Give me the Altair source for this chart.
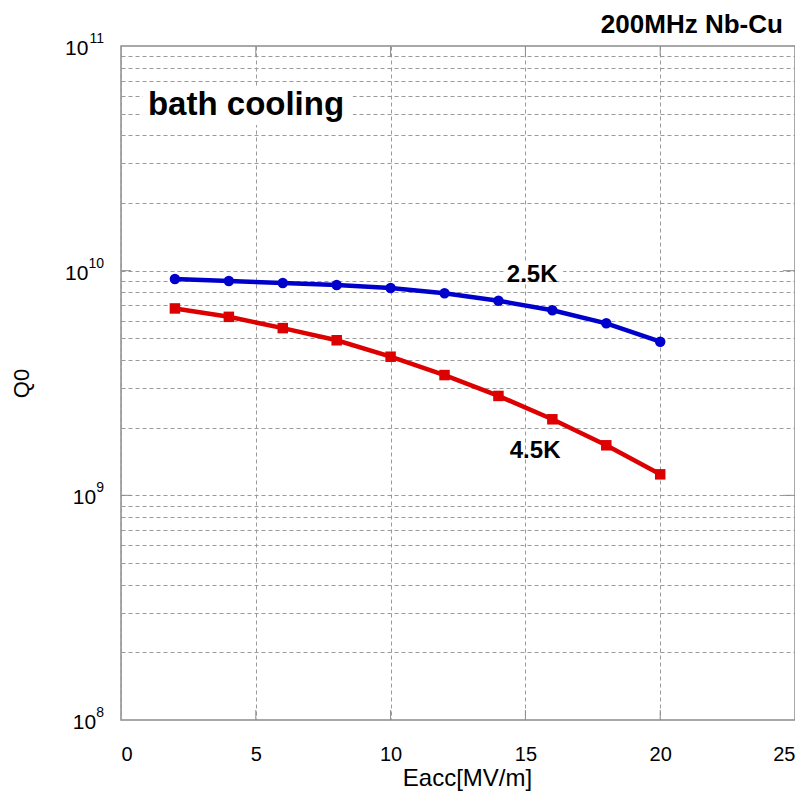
import altair as alt
import pandas as pd

# ---- data ----
eacc = [2, 4, 6, 8, 10, 12, 14, 16, 18, 20]
q0_25K = [9.18e9, 8.99e9, 8.81e9, 8.63e9, 8.37e9, 7.93e9, 7.35e9, 6.66e9, 5.83e9, 4.83e9]
q0_45K = [6.79e9, 6.23e9, 5.55e9, 4.90e9, 4.14e9, 3.43e9, 2.77e9, 2.18e9, 1.67e9, 1.24e9]
series_names = ["2.5K", "4.5K"]
series_colors = ["#0000cc", "#dd0000"]
series_shapes = ["circle", "square"]

x_ticks = [0, 5, 10, 15, 20, 25]
x_major_inner = [5, 10, 15, 20]
y_decades = [1e8, 1e9, 1e10, 1e11]
y_exponents = ["8", "9", "10", "11"]
y_major_inner = [1e9, 1e10]
y_grid = [m * 10 ** k for k in (8, 9, 10) for m in range(1, 10)][1:]

# annotations (data coordinates)
ann_text = ["bath cooling", "2.5K", "4.5K", "200MHz Nb-Cu"]
ann_x = [1.0, 14.31, 14.42, 24.55]
ann_y = [4.93e10, 8.93e9, 1.46e9, 1.146e11]
ann_size = [33, 24, 24, 26]
ann_align = ["left", "left", "left", "right"]

box_x = [0.8, 14.2]
box_x2 = [8.6, 16.4]
box_y = [6.5e10, 1.092e10]
box_y2 = [4.45e10, 9.18e9]

W, H = 674, 674

df = pd.DataFrame({
    "Eacc": eacc * 2,
    "Q0": q0_25K + q0_45K,
    "T": [series_names[0]] * len(eacc) + [series_names[1]] * len(eacc),
})

xscale = alt.Scale(domain=[0, 25], nice=False, zero=False)
yscale = alt.Scale(type="log", domain=[1e8, 1e11], nice=False)

grid_color = "#9a9a9a"

base_x = alt.X("Eacc:Q", scale=xscale, axis=alt.Axis(
    values=x_ticks, labelFontSize=20, labelColor="black", labelPadding=24,
    ticks=False, domain=False, grid=True, gridDash=[4, 3], gridColor=grid_color,
    gridWidth=1, title="Eacc[MV/m]", titleFontSize=24, titleFontWeight="normal",
    titleColor="black", titleX=346, titleY=65, titleBaseline="alphabetic",
    titleAlign="center"))
base_y = alt.Y("Q0:Q", scale=yscale, axis=alt.Axis(
    values=y_grid, labels=False, ticks=False, domain=False, grid=True,
    gridDash=[4, 3], gridColor=grid_color, gridWidth=1, title="Q0",
    titleFontSize=22, titleFontWeight="normal", titleColor="black",
    titleX=-100, titleY=337, titleAngle=-90, titleBaseline="middle",
    titleAlign="center"))

color = alt.Color("T:N", scale=alt.Scale(domain=series_names, range=series_colors), legend=None)
shape = alt.Shape("T:N", scale=alt.Scale(domain=series_names, range=series_shapes), legend=None)

lines = alt.Chart(df).mark_line(strokeWidth=4.5).encode(x=base_x, y=base_y, color=color, detail="T:N")
points = alt.Chart(df).mark_point(filled=True, opacity=1, size=110).encode(
    x=alt.X("Eacc:Q", scale=xscale), y=alt.Y("Q0:Q", scale=yscale), color=color, shape=shape)

boxes = alt.Chart(pd.DataFrame({"x": box_x, "x2": box_x2, "y": box_y, "y2": box_y2})).mark_rect(
    color="white").encode(
    x=alt.X("x:Q", scale=xscale), x2="x2:Q", y=alt.Y("y:Q", scale=yscale), y2="y2:Q")

tick_color = "#8c8c8c"
xt = pd.DataFrame({"x": x_major_inner})
xticks_bottom = alt.Chart(xt).mark_rule(color=tick_color, strokeWidth=1).encode(
    x=alt.X("x:Q", scale=xscale), y=alt.value(H), y2=alt.value(H - 10))
xticks_top = alt.Chart(xt).mark_rule(color=tick_color, strokeWidth=1).encode(
    x=alt.X("x:Q", scale=xscale), y=alt.value(0), y2=alt.value(10))
yt = pd.DataFrame({"y": y_major_inner})
yticks_left = alt.Chart(yt).mark_rule(color=tick_color, strokeWidth=1).encode(
    y=alt.Y("y:Q", scale=yscale), x=alt.value(0), x2=alt.value(10))
yticks_right = alt.Chart(yt).mark_rule(color=tick_color, strokeWidth=1).encode(
    y=alt.Y("y:Q", scale=yscale), x=alt.value(W), x2=alt.value(W - 12))

ann_df = pd.DataFrame({"text": ann_text, "x": ann_x, "y": ann_y, "size": ann_size, "align": ann_align})
texts = []
for al in ["left", "right"]:
    texts.append(alt.Chart(ann_df).transform_filter(alt.datum.align == al).mark_text(
        fontWeight="bold", align=al, baseline="alphabetic", color="black").encode(
        x=alt.X("x:Q", scale=xscale), y=alt.Y("y:Q", scale=yscale),
        text="text:N", size=alt.Size("size:Q", scale=None, legend=None)))

ylab_df = pd.DataFrame({"v": y_decades, "e": y_exponents})
ylab_base = alt.Chart(ylab_df).transform_calculate(
    xoff="-17 - 7.8 * length(datum.e)")
ylab_ten = ylab_base.mark_text(fontSize=21, align="right", baseline="alphabetic", dy=9,
                               color="black").encode(
    x=alt.X("xoff:Q", scale=None), y=alt.Y("v:Q", scale=yscale), text=alt.value("10"))
ylab_exp = ylab_base.mark_text(fontSize=14, align="right", baseline="alphabetic", dy=-3,
                               color="black").encode(
    x=alt.value(-17), y=alt.Y("v:Q", scale=yscale), text="e:N")

chart = alt.layer(
    lines, boxes, xticks_bottom, xticks_top, yticks_left, yticks_right,
    points, *texts, ylab_ten, ylab_exp
).properties(
    width=W, height=H,
    autosize=alt.AutoSizeParams(type="none"),
    padding={"left": 113, "top": 38, "right": 0, "bottom": 71},
).configure(font="Liberation Sans").configure_view(stroke="#8c8c8c", strokeWidth=1.5)

chart.save("out.html", embed_options={"renderer": "svg", "actions": False})
